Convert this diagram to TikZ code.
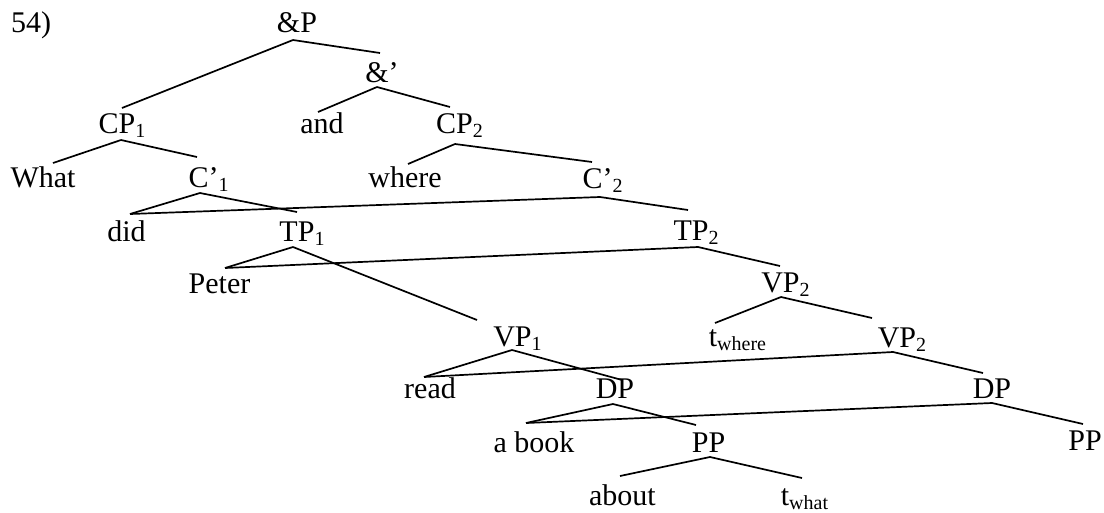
\documentclass[tikz,border=0pt]{standalone}
\usepackage{fontspec}
\setmainfont{Liberation Serif}
\newcommand\sbs[1]{\raisebox{-4pt}{\fontsize{20}{20}\selectfont #1}}
\newcommand\br[4]{\draw[branch] ([shift={#2}]#1.base) -- ([shift={#4}]#3.base);}
\begin{document}
\begin{tikzpicture}[x=1pt,y=-1pt,
  lbl/.style={inner sep=0pt, anchor=base, font=\fontsize{30}{36}\selectfont},
  branch/.style={line width=1.7pt, line cap=butt}]
\useasboundingbox (0,0) rectangle (1104,512);
\node[lbl] (n54) at (31,32) {54)};
\node[lbl] (AP) at (297,32) {\&P};
\node[lbl] (Ab) at (382,82) {\&’};
\node[lbl] (CP1) at (122,133) {CP\sbs{1}};
\node[lbl] (and) at (322,133) {and};
\node[lbl] (CP2) at (459.5,133) {CP\sbs{2}};
\node[lbl] (What) at (43,187) {What};
\node[lbl] (C1) at (208.5,187) {C’\sbs{1}};
\node[lbl] (where) at (405,187) {where};
\node[lbl] (C2) at (602.5,188) {C’\sbs{2}};
\node[lbl] (did) at (126.5,241) {did};
\node[lbl] (TP1) at (302,241) {TP\sbs{1}};
\node[lbl] (TP2) at (696,240) {TP\sbs{2}};
\node[lbl] (Peter) at (219.5,293) {Peter};
\node[lbl] (VP2a) at (785.5,292) {VP\sbs{2}};
\node[lbl] (VP1) at (517.5,346) {VP\sbs{1}};
\node[lbl] (tw) at (737.5,346) {t\sbs{where}};
\node[lbl] (VP2b) at (902,347) {VP\sbs{2}};
\node[lbl] (read) at (430,398) {read};
\node[lbl] (DP1) at (615,398) {DP};
\node[lbl] (DP2) at (992,398) {DP};
\node[lbl] (abook) at (534,452) {a book};
\node[lbl] (PP1) at (708.5,452) {PP};
\node[lbl] (PP2) at (1085,450) {PP};
\node[lbl] (about) at (622.5,505) {about};
\node[lbl] (twh) at (804.5,505) {t\sbs{what}};
\br{AP}{(-4,8)}{CP1}{(0,-25)}
\br{AP}{(-4,8)}{Ab}{(-2,-29)}
\br{Ab}{(-5,5)}{and}{(-4,-21)}
\br{Ab}{(-5,5)}{CP2}{(-9.5,-26)}
\br{CP1}{(-1,7)}{What}{(10,-24)}
\br{CP1}{(-1,7)}{C1}{(-11.5,-30)}
\br{CP2}{(-4.5,11)}{where}{(3,-23)}
\br{CP2}{(-4.5,11)}{C2}{(-10.5,-26)}
\br{C1}{(-8.5,6)}{did}{(3.5,-27)}
\br{C1}{(-8.5,6)}{TP1}{(-5,-29)}
\br{C2}{(-2.5,9)}{did}{(3.5,-27)}
\br{C2}{(-2.5,9)}{TP2}{(-8,-30)}
\br{TP1}{(-9,6)}{Peter}{(5.5,-25)}
\br{TP1}{(-9,6)}{VP1}{(-40.5,-26)}
\br{TP2}{(2,7)}{Peter}{(5.5,-25)}
\br{TP2}{(2,7)}{VP2a}{(-5.5,-26)}
\br{VP2a}{(-4.5,5)}{tw}{(-22.5,-23)}
\br{VP2a}{(-4.5,5)}{VP2b}{(-30,-29)}
\br{VP1}{(-5.5,4)}{read}{(-6,-21)}
\br{VP1}{(-5.5,4)}{DP1}{(7,-18)}
\br{VP2b}{(-9,5)}{read}{(-6,-21)}
\br{VP2b}{(-9,5)}{DP2}{(-9,-25)}
\br{DP1}{(-2,6)}{abook}{(-8,-29)}
\br{DP1}{(-2,6)}{PP1}{(-12.5,-27)}
\br{DP2}{(0,5)}{abook}{(-8,-29)}
\br{DP2}{(0,5)}{PP2}{(-2,-26)}
\br{PP1}{(1.5,5)}{about}{(-2.5,-29)}
\br{PP1}{(1.5,5)}{twh}{(-2.5,-27)}
\end{tikzpicture}
\end{document}
